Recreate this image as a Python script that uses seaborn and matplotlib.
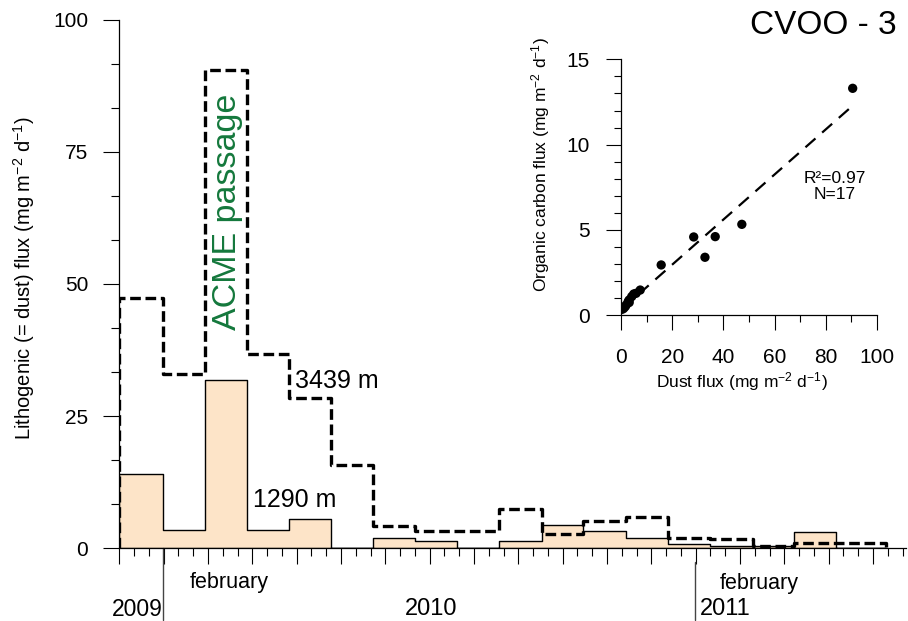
import numpy as np
import matplotlib
matplotlib.use("Agg")
import matplotlib.pyplot as plt
from matplotlib.ticker import MultipleLocator
import seaborn as sns

# ── Data ────────────────────────────────────────────────────────────────────
# cup sampling intervals, days since the start of the record (Nov 2008)
cup_edges = [0, 59.6, 117.6, 175.2, 233.3, 290.9, 348.5, 406.1, 463.8, 521.4,
             579.6, 636.7, 694.8, 752.5, 810.5, 869.1, 926.2, 983.8, 1051.6]
# lithogenic flux (mg m-2 d-1) per cup
flux_1290 = [14.0, 3.4, 31.9, 3.4, 5.6, 0.0, 1.9, 1.45, 0.0, 1.45,
             4.5, 3.2, 2.0, 0.75, 0.45, 0.5, 3.0, 0.15]
flux_3439 = [47.3, 33.0, 90.4, 36.8, 28.5, 15.7, 4.2, 3.2, 3.2, 7.5,
             2.7, 5.2, 5.9, 2.0, 1.75, 0.45, 1.0, 1.0]

# inset: dust flux vs organic carbon flux (3439 m)
dust_flux = [90.5, 47.2, 36.8, 32.8, 28.4, 15.7, 7.5, 5.9, 5.0, 4.2,
             3.2, 3.2, 2.8, 2.0, 1.6, 1.0, 0.4]
oc_flux = [13.3, 5.33, 4.61, 3.40, 4.59, 2.95, 1.48, 1.29, 1.25, 1.10,
           0.90, 0.75, 0.80, 0.60, 0.50, 0.40, 0.35]

# year boundaries (days) under the time axis
year_lines = [60, 790]
PEACH = "#FDE4C8"
GREEN = "#14783C"

sns.set_theme(style="ticks")
plt.rcParams["font.family"] = ["Liberation Sans", "DejaVu Sans"]
plt.rcParams["mathtext.fontset"] = "custom"
plt.rcParams["mathtext.rm"] = "Liberation Sans"
plt.rcParams["mathtext.it"] = "Liberation Sans:italic"
plt.rcParams["axes.linewidth"] = 0.9
for key in ["text.color", "axes.labelcolor", "axes.edgecolor",
            "xtick.color", "ytick.color"]:
    plt.rcParams[key] = "black"

UNITS = r"(mg m$^{\mathregular{-2}}$ d$^{\mathregular{-1}}$)"

fig = plt.figure(figsize=(9.08, 6.21), dpi=100)
ax = fig.add_axes([119.3 / 908, 72.7 / 621, (906 - 119.3) / 908, 528.8 / 621])

# ── Main panel: step histograms of the two traps ────────────────────────────
centers = [(a + b) / 2 for a, b in zip(cup_edges[:-1], cup_edges[1:])]
sns.histplot(x=centers, weights=flux_1290, bins=cup_edges, element="step",
             fill=True, facecolor=PEACH, edgecolor="black", linewidth=1.0,
             alpha=1, ax=ax)

step_x = np.repeat(cup_edges, 2)
step_y = np.concatenate([[0], np.repeat(flux_3439, 2), [0]])
sns.lineplot(x=step_x, y=step_y, sort=False, estimator=None, color="black",
             linewidth=2.4, linestyle=(0, (3.2, 1.4)), ax=ax)

ax.set_xlim(0, 1079.5)
ax.set_ylim(0, 100)
ax.xaxis.set_major_locator(MultipleLocator(365 / 6))
ax.xaxis.set_minor_locator(MultipleLocator(365 / 18))
ax.yaxis.set_major_locator(MultipleLocator(25))
ax.yaxis.set_minor_locator(MultipleLocator(25 / 3))
ax.tick_params(axis="both", which="major", direction="out", length=11.5,
               width=0.8, color="black", labelsize=15, pad=11)
ax.tick_params(axis="both", which="minor", direction="out", length=5.5,
               width=0.8, color="black")
ax.tick_params(axis="x", labelbottom=False)
ax.set_xlabel("")
ax.set_ylabel("Lithogenic (= dust) flux " + UNITS, fontsize=14.5)
ax.yaxis.set_label_coords(-0.104, 0.51)
sns.despine(ax=ax)

# time axis annotations
xt = ax.get_xaxis_transform()
for xl, top in zip(year_lines, [0.0, -0.026]):
    ax.plot([xl, xl], [top, -0.136], transform=xt, clip_on=False,
            color="#444444", linewidth=1.0)
ax.text(97, -0.064, "february", transform=xt, ha="left", va="center", fontsize=15.5)
ax.text(824, -0.067, "february", transform=xt, ha="left", va="center", fontsize=15.5)
ax.text(25, -0.115, "2009", transform=xt, ha="center", va="center", fontsize=16.5)
ax.text(427.7, -0.115, "2010", transform=xt, ha="center", va="center", fontsize=17)
ax.text(797, -0.115, "2011", transform=xt, ha="left", va="center", fontsize=17)

ax.text(147.8, 63.6, "ACME passage", rotation=90, ha="center", va="center",
        color=GREEN, fontsize=24.5)
ax.text(241.5, 31.6, "3439 m", ha="left", va="center", fontsize=18)
ax.text(183.5, 9.1, "1290 m", ha="left", va="center", fontsize=18)

fig.text(897 / 908, 1 - 26 / 621, "CVOO - 3", ha="right", va="center", fontsize=24)

# ── Inset: dust vs organic carbon flux ──────────────────────────────────────
axi = fig.add_axes([621 / 908, (621 - 315.3) / 621, 256 / 908, 256 / 621])
axi.set_facecolor("none")
sns.regplot(x=dust_flux, y=oc_flux, scatter=False, ci=None, truncate=True,
            line_kws=dict(color="black", linewidth=1.6, linestyle=(0, (6, 4))),
            ax=axi)
sns.scatterplot(x=dust_flux, y=oc_flux, color="black", s=45, edgecolor="none",
                ax=axi, zorder=3)
axi.set_xlim(0, 100)
axi.set_ylim(0, 15)
axi.xaxis.set_major_locator(MultipleLocator(20))
axi.xaxis.set_minor_locator(MultipleLocator(10))
axi.yaxis.set_major_locator(MultipleLocator(5))
axi.yaxis.set_minor_locator(MultipleLocator(1))
axi.tick_params(axis="both", which="major", direction="out", length=10.8,
                width=0.8, color="black", labelsize=15)
axi.tick_params(axis="x", which="major", pad=13)
axi.tick_params(axis="y", which="major", pad=11.5)
axi.tick_params(axis="both", which="minor", direction="out", length=5,
                width=0.8, color="black")
axi.set_xlabel("Dust flux " + UNITS, fontsize=12.5)
axi.set_ylabel("Organic carbon flux " + UNITS, fontsize=12.5)
axi.xaxis.set_label_coords(0.473, -0.215)
axi.yaxis.set_label_coords(-0.27, 0.587)
sns.despine(ax=axi)
axi.text(83.5, 7.57, "R²=0.97\nN=17", ha="center", va="center",
         fontsize=12.5, linespacing=1.1)

fig.savefig("out.png", dpi=100)
